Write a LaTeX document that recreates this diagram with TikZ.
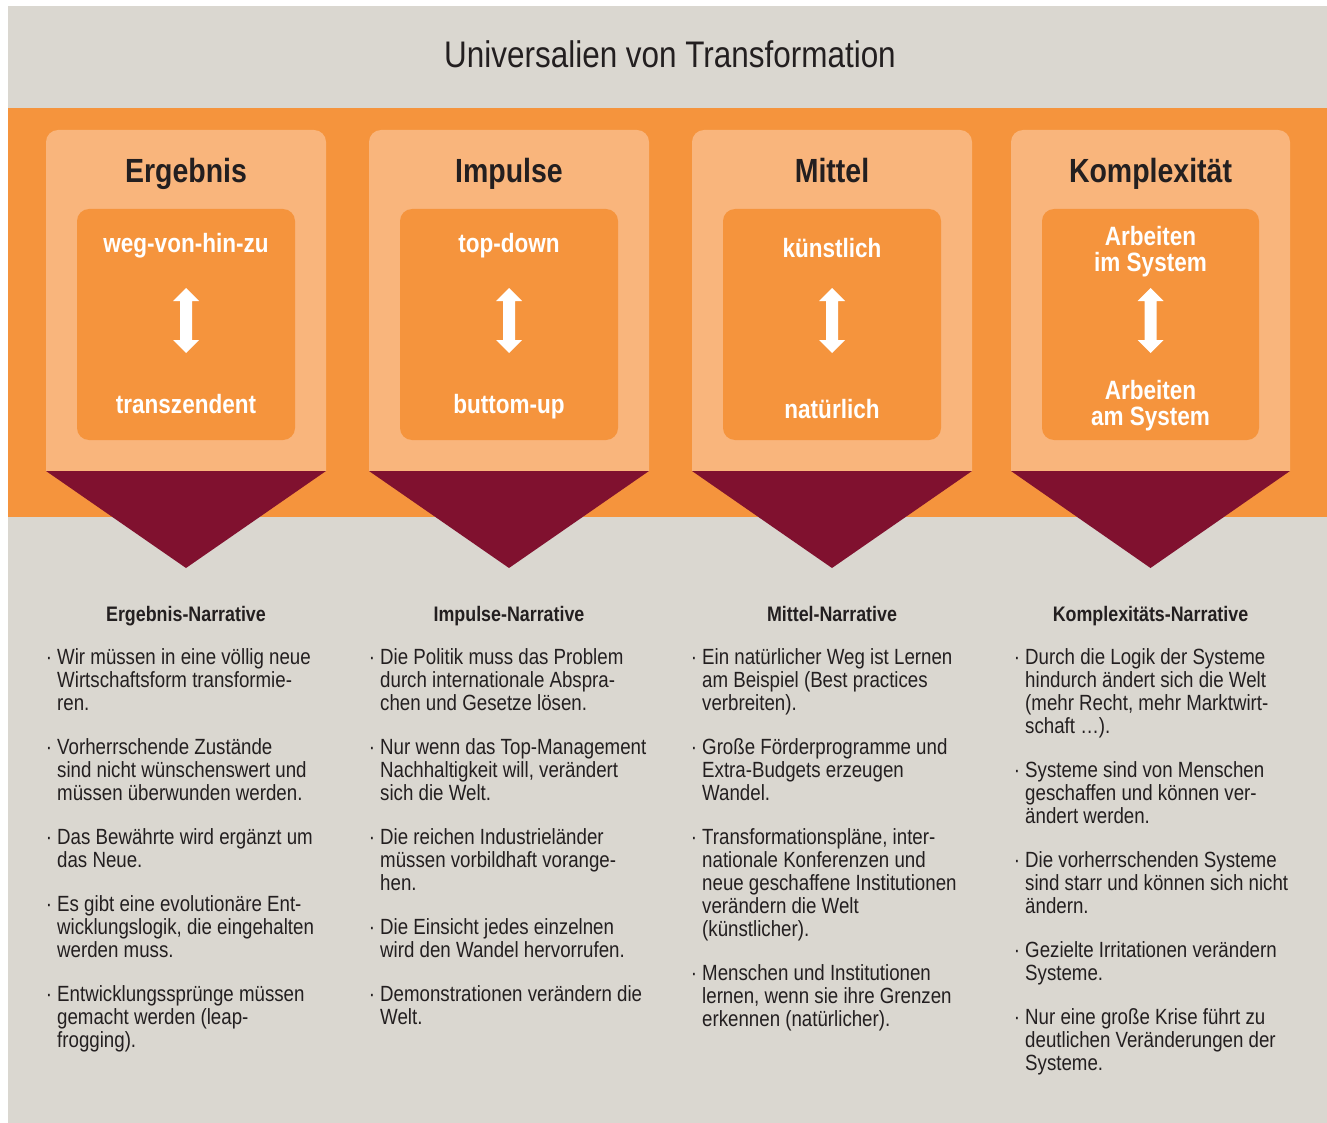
\documentclass[tikz,border=0pt]{standalone}
\usepackage{fontspec}
\setmainfont{Liberation Sans}[FakeStretch=0.85]
\definecolor{bggray}{HTML}{DAD7D0}
\definecolor{orng}{HTML}{F5943D}
\definecolor{lorng}{HTML}{F9B57C}
\definecolor{dred}{HTML}{80112F}
\definecolor{txt}{HTML}{231F20}
\tikzset{
  cardtitle/.style={font=\fontsize{33.5}{36}\selectfont\bfseries, text=txt, inner sep=0, anchor=base},
  poletext/.style={font=\fontsize{26.5}{26}\selectfont\bfseries, text=white, align=center, inner sep=0},
  polebase/.style={poletext, anchor=base},
  narrhead/.style={font=\fontsize{21}{23}\selectfont\bfseries, text=txt, inner sep=0, anchor=base},
  narrbody/.style={font=\fontsize{22}{23}\selectfont, text=txt, align=left, inner sep=0, anchor=north west},
}
\newcommand{\bul}{\llap{·\hspace{5pt}}}
\newcommand{\fst}{\rule{0pt}{15pt}}
\newcommand{\card}[5]{%
  \fill[lorng] (#1,471) [rounded corners=12] -- (#1,130) -- (#2,130) [sharp corners] -- (#2,471) -- cycle;
  \fill[dred] (#1,471) -- (#2,471) -- ({(#1+#2)/2},568) -- cycle;
  \fill[orng, rounded corners=12] ({#1+31},209) rectangle ({#2-31},440);
  \node[cardtitle] (#3-title) at ({(#1+#2)/2},183) {#4};
  \coordinate (#3-c) at ({(#1+#2)/2},320.5);
  \fill[white] ($(#3-c)+(0,-32.5)$) -- ++(13,13) -- ++(-7,0) -- ++(0,39) -- ++(7,0) -- ++(-13,13) -- ++(-13,-13) -- ++(7,0) -- ++(0,-39) -- ++(-7,0) -- cycle;
  \node[narrhead] (#3-head) at ({(#1+#2)/2},621) {#5};
}
\usetikzlibrary{calc}
\begin{document}
\begin{tikzpicture}[x=1pt,y=-1pt]
\useasboundingbox (0,0) rectangle (1327,1123);
\fill[white] (0,0) rectangle (1327,1123);
\fill[bggray] (8,6) rectangle (1327,1123);
\fill[orng] (8,108) rectangle (1327,517);
\node[font=\fontsize{37}{40}\selectfont, text=txt, inner sep=0] (title) at (670,54) {Universalien von Transformation};

\card{46}{326}{erg}{Ergebnis}{Ergebnis-Narrative}
\card{369}{649}{imp}{Impulse}{Impulse-Narrative}
\card{692}{972}{mit}{Mittel}{Mittel-Narrative}
\card{1011}{1290}{kom}{Komplexität}{Komplexitäts-Narrative}

\node[polebase] (erg-a) at (186,253) {weg-von-hin-zu};
\node[polebase] (erg-b) at (186,413) {transzendent};
\node[polebase] (imp-a) at (509,253) {top-down};
\node[polebase] (imp-b) at (509,413) {buttom-up};
\node[polebase] (mit-a) at (832,258) {künstlich};
\node[polebase] (mit-b) at (832,418) {natürlich};
\node[poletext] (kom-a) at (1150.5,252) {Arbeiten\\im System};
\node[poletext] (kom-b) at (1150.5,406) {Arbeiten\\am System};

\node[narrbody] (erg-body) at (57,648) {\fst\bul Wir müssen in eine völlig neue\\Wirtschaftsform transformie-\\ren.\\[21pt]
\bul Vorherrschende Zustände\\sind nicht wünschenswert und\\müssen überwunden werden.\\[21pt]
\bul Das Bewährte wird ergänzt um\\das Neue.\\[21pt]
\bul Es gibt eine evolutionäre Ent-\\wicklungslogik, die eingehalten\\werden muss.\\[21pt]
\bul Entwicklungssprünge müssen\\gemacht werden (leap-\\frogging).};

\node[narrbody] (imp-body) at (380,648) {\fst\bul Die Politik muss das Problem\\durch internationale Abspra-\\chen und Gesetze lösen.\\[21pt]
\bul Nur wenn das Top-Management\\Nachhaltigkeit will, verändert\\sich die Welt.\\[21pt]
\bul Die reichen Industrieländer\\müssen vorbildhaft vorange-\\hen.\\[21pt]
\bul Die Einsicht jedes einzelnen\\wird den Wandel hervorrufen.\\[21pt]
\bul Demonstrationen verändern die\\Welt.};

\node[narrbody] (mit-body) at (702,648) {\fst\bul Ein natürlicher Weg ist Lernen\\am Beispiel (Best practices\\verbreiten).\\[21pt]
\bul Große Förderprogramme und\\Extra-Budgets erzeugen\\Wandel.\\[21pt]
\bul Transformationspläne, inter-\\nationale Konferenzen und\\neue geschaffene Institutionen\\verändern die Welt\\(künstlicher).\\[21pt]
\bul Menschen und Institutionen\\lernen, wenn sie ihre Grenzen\\erkennen (natürlicher).};

\node[narrbody] (kom-body) at (1025,648) {\fst\bul Durch die Logik der Systeme\\hindurch ändert sich die Welt\\(mehr Recht, mehr Marktwirt-\\schaft …).\\[21pt]
\bul Systeme sind von Menschen\\geschaffen und können ver-\\ändert werden.\\[21pt]
\bul Die vorherrschenden Systeme\\sind starr und können sich nicht\\ändern.\\[21pt]
\bul Gezielte Irritationen verändern\\Systeme.\\[21pt]
\bul Nur eine große Krise führt zu\\deutlichen Veränderungen der\\Systeme.};
\end{tikzpicture}
\end{document}
